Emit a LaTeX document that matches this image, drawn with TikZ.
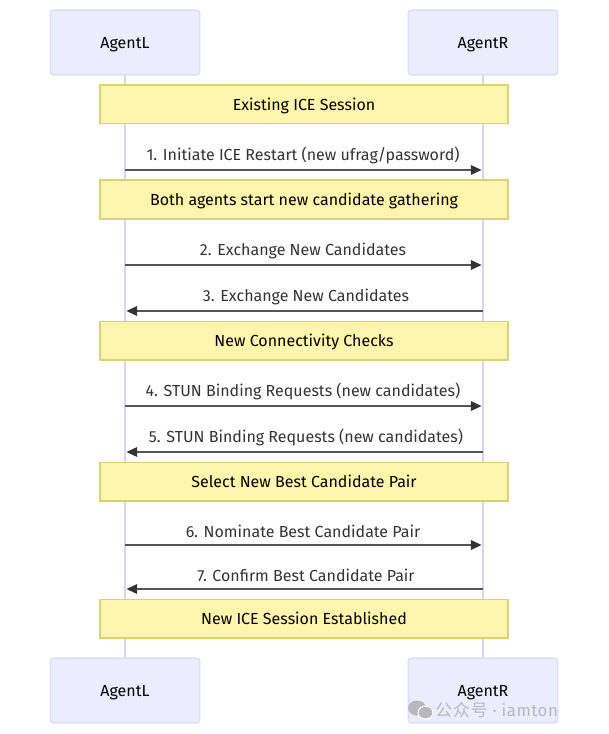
\documentclass[tikz,border=0pt]{standalone}
\usepackage{fontspec}
\setmainfont{Fira Sans}
\newfontfamily\cjkfont[LetterSpace=6]{Noto Sans CJK SC}
\newfontfamily\wmfont[LetterSpace=3]{Fira Sans}
\usetikzlibrary{arrows.meta}
\definecolor{actfill}{HTML}{ECECFF}
\definecolor{actline}{HTML}{E0DDF8}
\definecolor{lifeline}{HTML}{D8D3F2}
\definecolor{notefill}{HTML}{FFF5AD}
\definecolor{noteline}{HTML}{D6D27A}
\definecolor{msgline}{HTML}{555555}
\definecolor{msgtip}{HTML}{333333}
\definecolor{msgtext}{HTML}{333333}
\definecolor{wm}{HTML}{B8B8BC}
\tikzset{x=0.75pt,y=-0.75pt,
 bodyfont/.style={font=\fontsize{12pt}{14pt}\selectfont,text height=10.6pt,text depth=1.05pt},
 actor/.style={bodyfont,draw=actline,fill=actfill,line width=1.1pt,rounded corners=2.2pt,minimum width=112pt,minimum height=48.5pt,inner sep=0pt,text=black},
 note/.style={bodyfont,draw=noteline,fill=notefill,line width=1pt,minimum width=306pt,minimum height=29pt,inner sep=0pt,text=black},
 lifel/.style={draw=lifeline,line width=1.5pt},
 msg/.style={draw=msgline,line width=1.35pt,-{Triangle[length=8pt,width=7.5pt,fill=msgtip,color=msgtip,line width=0pt]},shorten >=1.1pt},
 msglabel/.style={bodyfont,text=msgtext,inner sep=0pt}}
\begin{document}
\begin{tikzpicture}
\useasboundingbox (0,0) rectangle (608,734);
\fill[white] (0,0) rectangle (608,734);
\coordinate (lt) at (125,75); \coordinate (lb) at (125,658);
\coordinate (rt) at (483,75); \coordinate (rb) at (483,658);
\draw[lifel] (lt)--(lb); \draw[lifel] (rt)--(rb);
\node[actor] (a1) at (125,42.5) {AgentL};
\node[actor] (a2) at (483,42.5) {AgentR};
\node[actor] (a3) at (125,690.5) {AgentL};
\node[actor] (a4) at (483,690.5) {AgentR};
\node[note] (n1) at (304,104.5) {Existing ICE Session};
\node[note] (n2) at (304,199.5) {Both agents start new candidate gathering};
\node[note] (n3) at (304,340.5) {New Connectivity Checks};
\node[note] (n4) at (304,481.5) {Select New Best Candidate Pair};
\node[note] (n5) at (304,618.5) {New ICE Session Established};
\foreach \nm/\y in {m1/170,m2/265,m3/311,m4/406,m5/452,m6/545,m7/589}{
 \coordinate (\nm L) at (125,\y); \coordinate (\nm R) at (483,\y);
}
\draw[msg] (m1L)--(m1R);
\draw[msg] (m2L)--(m2R);
\draw[msg] (m3R)--(m3L);
\draw[msg] (m4L)--(m4R);
\draw[msg] (m5R)--(m5L);
\draw[msg] (m6L)--(m6R);
\draw[msg] (m7R)--(m7L);
\node[msglabel] (t1) at (303,154) {1. Initiate ICE Restart (new ufrag/password)};
\node[msglabel] (t2) at (303,249) {2. Exchange New Candidates};
\node[msglabel] (t3) at (306,295) {3. Exchange New Candidates};
\node[msglabel] (t4) at (303,390) {4. STUN Binding Requests (new candidates)};
\node[msglabel] (t5) at (306,436) {5. STUN Binding Requests (new candidates)};
\node[msglabel] (t6) at (303,531) {6. Nominate Best Candidate Pair};
\node[msglabel] (t7) at (306,575) {7. Confirm Best Candidate Pair};
\node[text=wm,anchor=west,inner sep=0pt,font=\fontsize{12.6pt}{14pt}\selectfont] (wm1) at (435,710) {{\cjkfont 公众号}{\wmfont{} · iamton}};
\fill[wm] (417,708) ellipse (9 and 7.5);
\fill[white] (425.5,712.5) ellipse (8 and 7);
\fill[wm] (425.5,712.5) ellipse (6.8 and 5.8);
\end{tikzpicture}
\end{document}
